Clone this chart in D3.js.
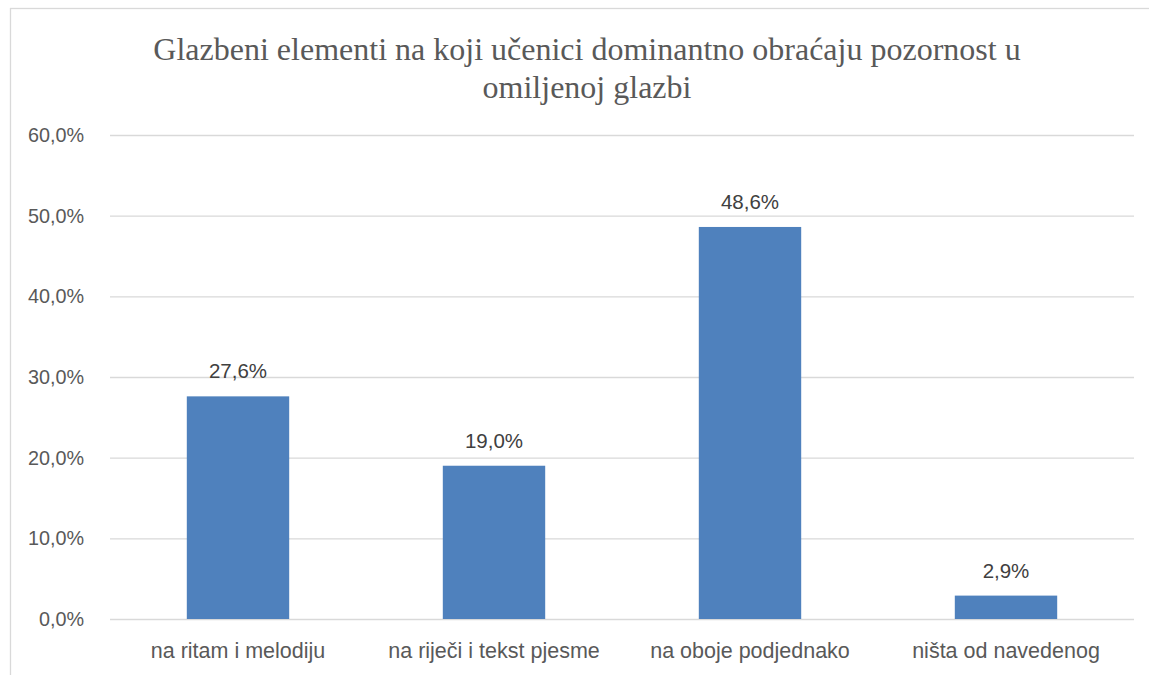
<!DOCTYPE html>
<html><head><meta charset="utf-8">
<script src="https://cdn.jsdelivr.net/npm/d3@7"></script>
<style>body{margin:0;background:#fff;}svg{display:block;}</style>
</head><body>
<script>
const categories = ["na ritam i melodiju","na riječi i tekst pjesme","na oboje podjednako","ništa od navedenog"];
const values = [27.6, 19.0, 48.6, 2.9];
const yTicks = [0,10,20,30,40,50,60];
const titleLines = ["Glazbeni elementi na koji učenici dominantno obraćaju pozornost u","omiljenoj glazbi"];

(function(){
const W = 1149, H = 675;
const svg = d3.select("body").append("svg").attr("width", W).attr("height", H);
svg.append("rect").attr("x",10.5).attr("y",8.5).attr("width",W+20).attr("height",H+20)
  .attr("fill","none").attr("stroke","#d9d9d9").attr("stroke-width",1.3);

const pL = 110, pR = 1134, pT = 135, pB = 619;
const x = d3.scaleBand().domain(categories).range([pL,pR]).paddingInner(0.6).paddingOuter(0.3);
const y = d3.scaleLinear().domain([0,60]).range([pB, pT]);
const fmt = v => d3.format(".1f")(v).replace(".", ",") + "%";
const sans = "'Liberation Sans', Arial, sans-serif";

const grid = svg.append("g").attr("transform",`translate(${pL},0)`)
  .call(d3.axisLeft(y).tickValues(yTicks).tickSize(-(pR-pL)).tickFormat(fmt));
grid.select(".domain").remove();
grid.selectAll(".tick line").attr("stroke","#d9d9d9").attr("stroke-width",1.3);
grid.selectAll(".tick text").attr("x",-26).attr("fill","#595959")
  .style("font-family",sans).style("font-size","19.8px");

svg.selectAll("rect.bar").data(values).enter().append("rect").attr("class","bar")
  .attr("x",(d,i)=>x(categories[i])).attr("width",x.bandwidth())
  .attr("y",d=>y(d)).attr("height",d=>y(0)-y(d)).attr("fill","#4f81bd");

svg.selectAll("text.val").data(values).enter().append("text").attr("class","val")
  .attr("x",(d,i)=>x(categories[i])+x.bandwidth()/2).attr("y",d=>y(d)-18)
  .attr("text-anchor","middle").attr("fill","#404040")
  .style("font-family",sans).style("font-size","20.5px")
  .text(fmt);

const xa = svg.append("g").attr("transform",`translate(0,${pB})`)
  .call(d3.axisBottom(x).tickSize(0));
xa.select(".domain").remove();
xa.selectAll(".tick text").attr("y",39).attr("dy","0").attr("fill","#595959")
  .style("font-family",sans).style("font-size","21.5px");

svg.append("g").selectAll("text").data(titleLines).enter().append("text")
  .attr("x",587).attr("y",(d,i)=>60+i*38).attr("text-anchor","middle").attr("fill","#595959")
  .style("font-family","'Liberation Serif', 'Times New Roman', serif").style("font-size","32px")
  .text(d=>d);
})();
</script>
</body></html>
